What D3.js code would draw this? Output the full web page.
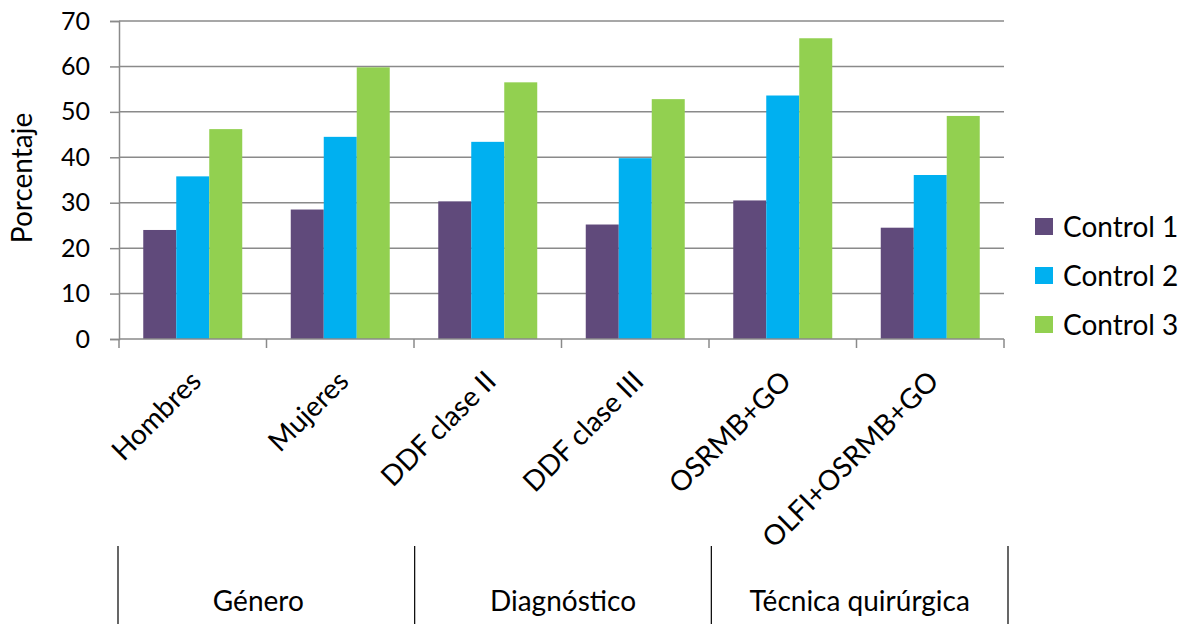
<!DOCTYPE html>
<html>
<head>
<meta charset="utf-8">
<script src="https://cdn.jsdelivr.net/npm/d3@7"></script>
<style>
  html, body { margin: 0; padding: 0; background: #fff; }
  svg { display: block; font-family: Lato, "Open Sans", sans-serif; }
</style>
</head>
<body>
<svg id="chart" width="1185" height="624"></svg>
<script>
// Categories along the x axis, grouped by criterion
const categories = ["Hombres", "Mujeres", "DDF clase II", "DDF clase III", "OSRMB+GO", "OLFI+OSRMB+GO"];
const groups = ["Género", "Diagnóstico", "Técnica quirúrgica"];

// Series (percentages)
const seriesNames = ["Control 1", "Control 2", "Control 3"];
const control1 = [24.0, 28.5, 30.3, 25.2, 30.5, 24.5];
const control2 = [35.8, 44.5, 43.4, 39.8, 53.6, 36.1];
const control3 = [46.2, 59.8, 56.5, 52.8, 66.2, 49.1];
const seriesColors = ["#604A7B", "#00B0F0", "#92D050"];

const yTicks = [0, 10, 20, 30, 40, 50, 60, 70];

const svg = d3.select("#chart");
const plot = { left: 119, right: 1004, top: 21, bottom: 339 };
const axisColor = "#8a8a8a";
const labelSize = 28;

const x0 = d3.scaleBand().domain(categories).range([plot.left, plot.right]).paddingInner(0).paddingOuter(0);
const x1 = d3.scaleBand().domain(seriesNames).range([0, x0.bandwidth()]).paddingInner(0).paddingOuter(0.735);
const y = d3.scaleLinear().domain([0, 70]).range([plot.bottom, plot.top]);
const color = d3.scaleOrdinal().domain(seriesNames).range(seriesColors);

// Horizontal gridlines
svg.append("g")
  .selectAll("line")
  .data(yTicks.filter(d => d > 0))
  .join("line")
  .attr("x1", plot.left).attr("x2", plot.right)
  .attr("y1", d => y(d)).attr("y2", d => y(d))
  .attr("stroke", axisColor).attr("stroke-width", 1.5);

// Y axis
const yAxis = svg.append("g")
  .attr("transform", `translate(${plot.left},0)`)
  .call(d3.axisLeft(y).tickValues(yTicks).tickSize(9).tickPadding(20).tickFormat(d3.format("d")));
yAxis.select(".domain").attr("stroke", axisColor).attr("stroke-width", 1.5);
yAxis.selectAll(".tick line").attr("stroke", axisColor).attr("stroke-width", 1.5);
yAxis.selectAll(".tick text")
  .attr("fill", "#000").attr("font-size", 25).attr("font-family", "Lato, sans-serif");

// Bars
const rows = categories.map((c, i) => ({
  category: c,
  values: [control1[i], control2[i], control3[i]]
}));
svg.append("g")
  .selectAll("g")
  .data(rows)
  .join("g")
  .attr("transform", d => `translate(${x0(d.category)},0)`)
  .selectAll("rect")
  .data(d => d.values.map((v, j) => ({ key: seriesNames[j], value: v })))
  .join("rect")
  .attr("x", d => x1(d.key))
  .attr("width", x1.bandwidth())
  .attr("y", d => y(d.value))
  .attr("height", d => y(0) - y(d.value))
  .attr("fill", d => color(d.key));

// X axis baseline and ticks at category boundaries
svg.append("line")
  .attr("x1", plot.left).attr("x2", plot.right)
  .attr("y1", y(0)).attr("y2", y(0))
  .attr("stroke", axisColor).attr("stroke-width", 1.5);
const boundaries = categories.map(c => x0(c)).concat([plot.right]);
svg.append("g")
  .selectAll("line")
  .data(boundaries)
  .join("line")
  .attr("x1", d => d).attr("x2", d => d)
  .attr("y1", y(0)).attr("y2", y(0) + 9)
  .attr("stroke", axisColor).attr("stroke-width", 1.5);

// Rotated category labels
svg.append("g")
  .selectAll("text")
  .data(categories)
  .join("text")
  .attr("transform", d => `translate(${x0(d) + x0.bandwidth() / 2 + 10},383) rotate(-45)`)
  .attr("text-anchor", "end")
  .attr("font-size", labelSize)
  .attr("fill", "#000")
  .text(d => d);

// Group row: separators and group labels
const groupX = d3.scaleBand().domain(groups).range([118, 1008]);
const groupEdges = groups.map(g => groupX(g)).concat([1008]);
svg.append("g")
  .selectAll("line")
  .data(groupEdges)
  .join("line")
  .attr("x1", d => d).attr("x2", d => d)
  .attr("y1", 546).attr("y2", 624)
  .attr("stroke", "#000").attr("stroke-width", 1.2);
svg.append("g")
  .selectAll("text")
  .data(groups)
  .join("text")
  .attr("x", (d, i) => groupX(d) + groupX.bandwidth() / 2 - (i === 0 ? 8 : 0))
  .attr("y", 611)
  .attr("text-anchor", "middle")
  .attr("font-size", labelSize)
  .attr("fill", "#000")
  .text(d => d);

// Y axis title
svg.append("text")
  .attr("transform", "translate(32,178) rotate(-90)")
  .attr("text-anchor", "middle")
  .attr("font-size", labelSize)
  .attr("fill", "#000")
  .text("Porcentaje");

// Legend
const legend = svg.append("g")
  .selectAll("g")
  .data(seriesNames)
  .join("g")
  .attr("transform", (d, i) => `translate(1035,${218 + i * 49})`);
legend.append("rect")
  .attr("width", 18).attr("height", 17)
  .attr("fill", d => color(d));
legend.append("text")
  .attr("x", 28).attr("y", 9)
  .attr("dy", "0.35em")
  .attr("font-size", labelSize)
  .attr("fill", "#000")
  .text(d => d);
</script>
</body>
</html>
